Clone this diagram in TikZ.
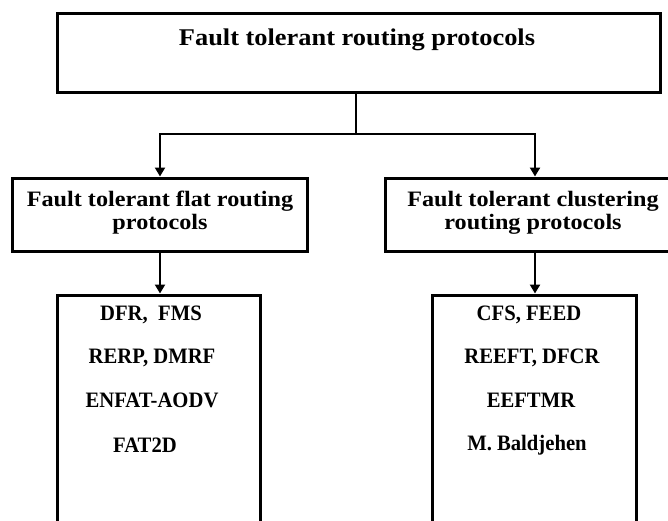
\documentclass[tikz,border=0pt]{standalone}
\usepackage{fontspec}
\setmainfont{Liberation Serif}
\newfontfamily\widefont[FakeStretch=1.1]{Liberation Serif}
\newfontfamily\narrowfont[FakeStretch=0.94]{Liberation Serif}
\usetikzlibrary{arrows.meta}

\tikzset{
  box/.style={draw=black, line width=3pt, inner sep=0pt, fill=white},
  wire/.style={draw=black, line width=2.4pt},
  arrowline/.style={wire, -{Triangle[length=9pt,width=10pt]}},
  titletext/.style={font=\widefont\bfseries\fontsize{24}{28}\selectfont, align=center},
  headtext/.style={font=\widefont\bfseries\fontsize{22}{23}\selectfont, align=center},
  itemtext/.style={font=\narrowfont\bfseries\fontsize{22}{24}\selectfont, inner sep=0pt},
}

\begin{document}
\begin{tikzpicture}[x=1pt, y=-1pt]
  \useasboundingbox (0,0) rectangle (668,520);
  \fill[white] (0,0) rectangle (668,520);
  \clip (0,0) rectangle (668,520);

  % boxes
  \node[box, minimum width=603pt, minimum height=79pt] (top) at (358.5,52.5) {};
  \node[box, minimum width=295pt, minimum height=73pt] (midL) at (160,214.5) {};
  \node[box, minimum width=300pt, minimum height=73pt] (midR) at (535,214.5) {};
  \node[box, minimum width=203pt, minimum height=300pt] (botL) at (158.5,445) {};
  \node[box, minimum width=204pt, minimum height=300pt] (botR) at (534,445) {};

  % texts
  \node[titletext] (ttl) at (357,40) {Fault tolerant routing protocols};
  \node[headtext] (hl) at (160,213) {Fault tolerant flat routing\\protocols};
  \node[headtext] (hr) at (533,213) {Fault tolerant clustering\\routing protocols};

  \node[itemtext] (l1) at (151,315) {DFR,\ \ FMS};
  \node[itemtext] (l2) at (152,358) {RERP, DMRF};
  \node[itemtext] (l3) at (152,400) {ENFAT-AODV};
  \node[itemtext] (l4) at (145,445) {FAT2D};

  \node[itemtext] (r1) at (529,315) {CFS, FEED};
  \node[itemtext] (r2) at (532,358) {REEFT, DFCR};
  \node[itemtext] (r3) at (531,400) {EEFTMR};
  \node[itemtext] (r4) at (527,445) {M. Baldjehen};

  % connectors
  \coordinate (split) at (356,134);
  \draw[wire] (split |- top.south) -- (split);
  \draw[arrowline] (split) -| (midL.north);
  \draw[arrowline] (split) -| (midR.north);
  \draw[arrowline] (midL.south) -- (midL.south |- botL.north);
  \draw[arrowline] (midR.south) -- (midR.south |- botR.north);
\end{tikzpicture}
\end{document}
